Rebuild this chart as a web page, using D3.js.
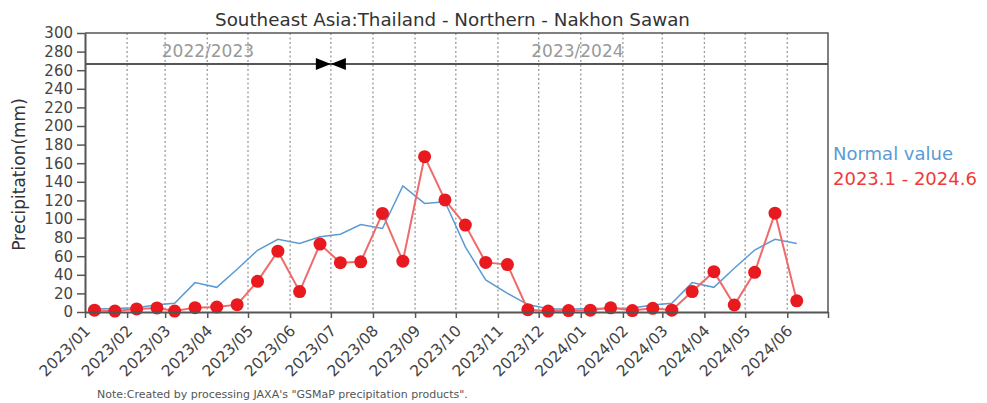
<!DOCTYPE html>
<html>
<head>
<meta charset="utf-8">
<script src="https://cdn.jsdelivr.net/npm/d3@7"></script>
<style>
  body { margin: 0; background: #fff; }
  text { font-family: "DejaVu Sans", sans-serif; }
</style>
</head>
<body>
<svg id="chart" width="987" height="403"></svg>
<script>
// half-month periods (centre day of each half)
var periods = [
  "2023-01-08","2023-01-23","2023-02-08","2023-02-23","2023-03-08","2023-03-23",
  "2023-04-08","2023-04-23","2023-05-08","2023-05-23","2023-06-08","2023-06-23",
  "2023-07-08","2023-07-23","2023-08-08","2023-08-23","2023-09-08","2023-09-23",
  "2023-10-08","2023-10-23","2023-11-08","2023-11-23","2023-12-08","2023-12-23",
  "2024-01-08","2024-01-23","2024-02-08","2024-02-23","2024-03-08","2024-03-23",
  "2024-04-08","2024-04-23","2024-05-08","2024-05-23","2024-06-08"
];
var normalValue = [
  3.6, 3.7, 4.5, 7.8, 9.4, 31.6, 26.5, 46, 66.4, 78.2, 73.8, 80.8,
  83.7, 94, 89.8, 135.6, 116.8, 118.5, 70, 34.5, 20, 8, 3.6, 3,
  3.7, 3.9, 4.2, 7.6, 9.4, 31.6, 26.5, 47, 66.6, 78.2, 73.6
];
var observed = [
  2, 1, 3.3, 4.4, 1, 4.7, 5.4, 7.9, 33, 65.4, 22, 73,
  53, 54, 106, 54.7, 167, 120.5, 93.5, 53.3, 51, 2.5, 1, 1.5,
  2, 4.5, 1.5, 4, 2, 22, 43.4, 7.5, 42.7, 106.3, 12
];
var monthTicks = [
  "2023-01-01","2023-02-01","2023-03-01","2023-04-01","2023-05-01","2023-06-01",
  "2023-07-01","2023-08-01","2023-09-01","2023-10-01","2023-11-01","2023-12-01",
  "2024-01-01","2024-02-01","2024-03-01","2024-04-01","2024-05-01","2024-06-01"
];
var yTicks = [0, 20, 40, 60, 80, 100, 120, 140, 160, 180, 200, 220, 240, 260, 280, 300];
var seasonLabels = ["2022/2023", "2023/2024"];
var seasonBreaks = ["2023-01-01", "2023-07-01", "2024-07-01"];
var seriesNames = ["Normal value", "2023.1 - 2024.6"];

var TITLE = "Southeast Asia:Thailand - Northern - Nakhon Sawan";
var NOTE = "Note:Created by processing JAXA's \"GSMaP precipitation products\".";

var svg = d3.select('#chart');
var padL = 85, padR = 828, padT = 33, padB = 312, bandH = 31;
var parse = d3.utcParse('%Y-%m-%d');

var x = d3.scaleUtc()
  .domain([parse(seasonBreaks[0]), parse(seasonBreaks[2])])
  .range([padL, padR]);
var y = d3.scaleLinear().domain([0, 300]).range([padB, padT]);

var pts = periods.map(function(p, i){
  return { date: parse(p), normal: normalValue[i], obs: observed[i] };
});

// title
svg.append('text')
  .attr('x', (padL + padR) / 2 - 4).attr('y', 26)
  .attr('text-anchor', 'middle')
  .attr('font-size', 18.3).attr('fill', '#333')
  .text(TITLE);

// dotted month grid
svg.append('g').selectAll('line')
  .data(monthTicks.slice(1)).enter().append('line')
    .attr('x1', function(d){ return x(parse(d)); })
    .attr('x2', function(d){ return x(parse(d)); })
    .attr('y1', padT).attr('y2', padB)
    .attr('stroke', '#999').attr('stroke-width', 1.3)
    .attr('stroke-dasharray', '2,2.5');

// season band
var bandY = padT + bandH;
svg.append('line')
  .attr('x1', padL).attr('x2', padR).attr('y1', bandY).attr('y2', bandY)
  .attr('stroke', '#555').attr('stroke-width', 2);

svg.append('g').selectAll('text')
  .data(seasonLabels).enter().append('text')
    .attr('x', function(d, i){ return (x(parse(seasonBreaks[i])) + x(parse(seasonBreaks[i + 1]))) / 2 - 2 * i; })
    .attr('y', bandY - 7)
    .attr('text-anchor', 'middle')
    .attr('font-size', 17).attr('fill', '#999')
    .text(function(d){ return d; });

var bx = x(parse(seasonBreaks[1]));
svg.append('path')
  .attr('d', 'M' + (bx - 15) + ',' + (bandY - 6) + 'L' + bx + ',' + bandY + 'L' + (bx - 15) + ',' + (bandY + 6) + 'Z' +
             'M' + (bx + 15) + ',' + (bandY - 6) + 'L' + bx + ',' + bandY + 'L' + (bx + 15) + ',' + (bandY + 6) + 'Z')
  .attr('fill', '#000');

// series
var lineNormal = d3.line().x(function(d){ return x(d.date); }).y(function(d){ return y(d.normal); });
var lineObs = d3.line().x(function(d){ return x(d.date); }).y(function(d){ return y(d.obs); });

svg.append('path').datum(pts)
  .attr('d', lineNormal)
  .attr('fill', 'none').attr('stroke', '#5a9bd5').attr('stroke-width', 1.5);

svg.append('path').datum(pts)
  .attr('d', lineObs)
  .attr('fill', 'none').attr('stroke', '#ef6b6b').attr('stroke-width', 2);

svg.append('g').selectAll('circle')
  .data(pts).enter().append('circle')
    .attr('cx', function(d){ return x(d.date); })
    .attr('cy', function(d){ return y(d.obs); })
    .attr('r', 6.5)
    .attr('fill', '#e8191f');

// axes
var xAxis = d3.axisBottom(x)
  .tickValues(monthTicks.map(parse).concat([parse(seasonBreaks[2])]))
  .tickFormat(function(d, i){ return i < monthTicks.length ? d3.utcFormat('%Y/%m')(d) : ''; })
  .tickSize(6).tickSizeOuter(0);

var gx = svg.append('g').attr('transform', 'translate(0,' + padB + ')').call(xAxis);
gx.select('.domain').attr('stroke', '#555').attr('stroke-width', 2);
gx.selectAll('.tick line').attr('stroke', '#555').attr('stroke-width', 1.5);
gx.selectAll('text')
  .attr('font-size', 15.5).attr('fill', '#444')
  .attr('font-family', '"DejaVu Sans", sans-serif')
  .attr('text-anchor', 'end')
  .attr('x', 0).attr('y', 0).attr('dy', '0.35em')
  .attr('transform', 'translate(2,16) rotate(-45)');

var yAxis = d3.axisLeft(y).tickValues(yTicks).tickSize(8).tickPadding(4).tickSizeOuter(0);
var gy = svg.append('g').attr('transform', 'translate(' + padL + ',0)').call(yAxis);
gy.select('.domain').attr('stroke', '#555').attr('stroke-width', 2);
gy.selectAll('.tick line').attr('stroke', '#555').attr('stroke-width', 1.5);
gy.selectAll('text')
  .attr('font-size', 15).attr('fill', '#444')
  .attr('font-family', '"DejaVu Sans", sans-serif');

// top / right border
svg.append('path')
  .attr('d', 'M' + padL + ',' + padT + 'H' + padR + 'V' + padB)
  .attr('fill', 'none').attr('stroke', '#555').attr('stroke-width', 1.5);

// y title
svg.append('text')
  .attr('transform', 'translate(25,' + ((padT + padB) / 2 + 2) + ') rotate(-90)')
  .attr('text-anchor', 'middle')
  .attr('font-size', 17).attr('fill', '#333')
  .text('Precipitation(mm)');

// legend
svg.append('g').selectAll('text')
  .data(seriesNames).enter().append('text')
    .attr('x', 833)
    .attr('y', function(d, i){ return 160 + i * 25; })
    .attr('font-size', 18)
    .attr('fill', function(d, i){ return i === 0 ? '#5b9bd5' : '#f03a3a'; })
    .text(function(d){ return d; });

// note
svg.append('text')
  .attr('x', 97).attr('y', 398)
  .attr('font-size', 11).attr('fill', '#555')
  .text(NOTE);
</script>
</body>
</html>
